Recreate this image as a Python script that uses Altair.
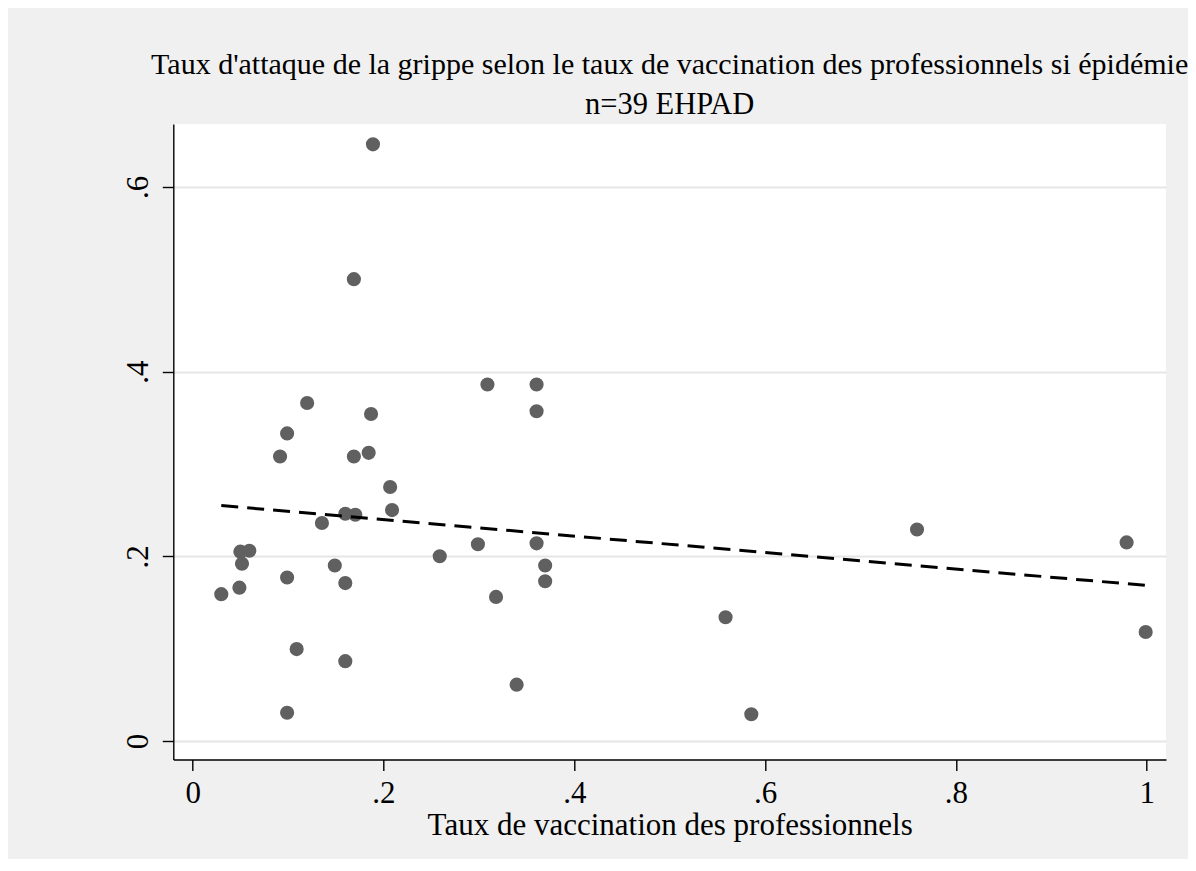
import altair as alt
import pandas as pd

# ---- data ----
vacc = [0.189, 0.169, 0.120, 0.187, 0.099, 0.0916, 0.169, 0.1845, 0.207, 0.209,
        0.160, 0.1705, 0.1355, 0.050, 0.0594, 0.0517, 0.149, 0.099, 0.160, 0.049,
        0.030, 0.259, 0.299, 0.318, 0.109, 0.160, 0.099, 0.309, 0.3605, 0.3605,
        0.3605, 0.3695, 0.3695, 0.5586, 0.3396, 0.5856, 0.7593, 0.979, 0.999]
attack = [0.646, 0.500, 0.366, 0.354, 0.333, 0.308, 0.308, 0.312, 0.275, 0.250,
          0.246, 0.245, 0.236, 0.205, 0.206, 0.192, 0.190, 0.177, 0.171, 0.166,
          0.159, 0.200, 0.213, 0.156, 0.0995, 0.0865, 0.0306, 0.386, 0.386, 0.357,
          0.214, 0.190, 0.173, 0.134, 0.061, 0.029, 0.229, 0.215, 0.118]
x_ticks = [0, 0.2, 0.4, 0.6, 0.8, 1]
y_ticks = [0, 0.2, 0.4, 0.6]
title_line1 = "Taux d'attaque de la grippe selon le taux de vaccination des professionnels si épidémie"
title_line2 = "n=39 EHPAD"
x_title = "Taux de vaccination des professionnels"

df = pd.DataFrame({"vacc": vacc, "attack": attack})

FONT = "Liberation Serif"
label_expr = ("datum.value == 0 ? '0' : datum.value == 1 ? '1' : "
              "replace(format(datum.value, '.1f'), '0.', '.')")

xscale = alt.Scale(domain=[-0.0203, 1.0203], nice=False, zero=False)
yscale = alt.Scale(domain=[-0.020, 0.668], nice=False, zero=False)

x_axis = alt.Axis(values=x_ticks, title=x_title, labelExpr=label_expr,
                  grid=False, labelPadding=8, labelFlush=False,
                  labelOverlap=False, titleBaseline="alphabetic", titleY=75)
y_axis = alt.Axis(values=y_ticks, title=None, labelExpr=label_expr,
                  grid=True, gridColor="#e6e6e6", gridWidth=2,
                  labelAngle=270, labelAlign="center",
                  labelBaseline="alphabetic", labelPadding=15,
                  labelOverlap=False)

points = alt.Chart(df).mark_circle(size=200, color="#606060", opacity=1).encode(
    x=alt.X("vacc:Q", scale=xscale, axis=x_axis),
    y=alt.Y("attack:Q", scale=yscale, axis=y_axis),
)

fit = alt.Chart(df).transform_regression("vacc", "attack").mark_line(
    color="black", strokeWidth=3, strokeDash=[17, 9]
).encode(
    x=alt.X("vacc:Q", scale=xscale, axis=x_axis),
    y=alt.Y("attack:Q", scale=yscale, axis=y_axis),
)

chart = alt.layer(points, fit).properties(
    width=992.7,
    height=635.5,
    title=alt.TitleParams(
        text=title_line1, subtitle=title_line2,
        font=FONT, fontSize=30, fontWeight="normal", color="black",
        subtitleFont=FONT, subtitleFontSize=30.5, subtitleColor="black",
        subtitlePadding=10, anchor="middle", offset=4,
    ),
    background="#f0f0f0",
    padding={"left": 165.3, "top": 116, "right": 22, "bottom": 99},
    autosize=alt.AutoSizeParams(type="none"),
).configure_view(
    fill="white", stroke=None
).configure_axis(
    domainColor="black", domainWidth=1.4, tickColor="black", tickWidth=1.4,
    tickSize=11, labelFont=FONT, labelFontSize=31, labelColor="black",
    titleFont=FONT, titleFontSize=31, titleFontWeight="normal", titleColor="black",
)

chart.save("out.html", embed_options={"renderer": "svg", "actions": False})
